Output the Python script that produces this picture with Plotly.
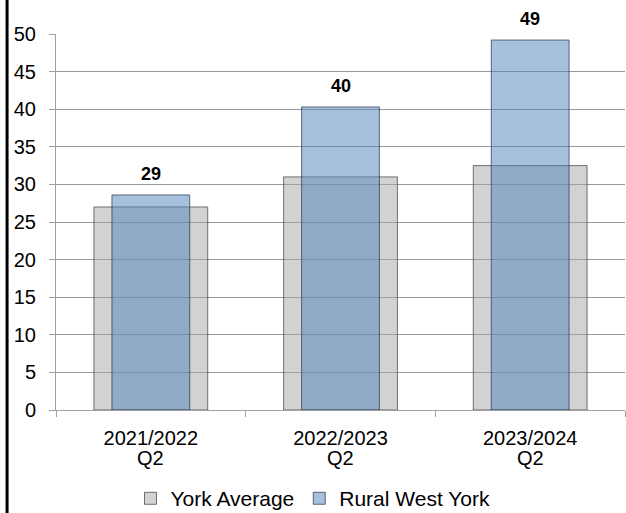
import plotly.graph_objects as go

# values
periods = ["2021/2022", "2022/2023", "2023/2024"]
quarters = ["Q2", "Q2", "Q2"]
york_average = [27.0, 31.0, 32.5]
rural_west_york = [28.6, 40.3, 49.2]
y_ticks = [0, 5, 10, 15, 20, 25, 30, 35, 40, 45, 50]

font_family = "Liberation Sans, Arial, sans-serif"

fig = go.Figure()

# wide grey bars behind
fig.add_trace(go.Bar(
    x=periods, y=york_average, name="York Average",
    width=0.6,
    marker=dict(color="rgba(166,166,166,0.5)",
                line=dict(color="rgba(60,60,60,0.7)", width=1)),
))

# narrower blue bars in front
fig.add_trace(go.Bar(
    x=periods, y=rural_west_york, name="Rural West York",
    width=0.41,
    marker=dict(color="rgba(79,129,189,0.5)",
                line=dict(color="rgba(40,50,70,0.7)", width=1)),
))

# rounded value labels above the blue bars
for p, v in zip(periods, rural_west_york):
    fig.add_annotation(x=p, y=v, text="<b>%d</b>" % int(v + 0.5), showarrow=False,
                       yanchor="bottom", yshift=9,
                       font=dict(family=font_family, size=18, color="black"))

# second row of the category labels (quarter), tighter than a <br> line
for p, q in zip(periods, quarters):
    fig.add_annotation(x=p, xref="x", y=0, yref="paper", text=q, showarrow=False,
                       yanchor="middle", yshift=-48,
                       font=dict(family=font_family, size=20, color="black"))

# black frame line at the left edge
fig.add_shape(type="line", xref="paper", yref="paper",
              x0=-0.086, x1=-0.086, y0=-0.3, y1=1.1,
              line=dict(color="black", width=3))

fig.update_layout(
    width=626, height=513,
    margin=dict(l=56, r=1, t=34, b=103),
    barmode="overlay",
    plot_bgcolor="white", paper_bgcolor="white",
    font=dict(family=font_family, size=20, color="black"),
    legend=dict(orientation="h", xref="container", x=0.5, xanchor="center",
                yref="container", y=0.028, yanchor="middle",
                font=dict(size=21), traceorder="normal"),
)

fig.update_yaxes(range=[0, 50], tickvals=y_ticks, automargin=False,
                 showgrid=True, gridcolor="#999999", gridwidth=1,
                 showline=True, linecolor="#a0a0a0", linewidth=1,
                 ticks="outside", ticklen=6, tickcolor="#a0a0a0",
                 ticklabelstandoff=9, zeroline=False)
fig.update_xaxes(range=[-0.5, 2.5], showline=True, linecolor="#a0a0a0",
                 linewidth=1, automargin=False,
                 ticks="outside", ticklen=6, tickcolor="#a0a0a0",
                 tickson="boundaries", ticklabelstandoff=10, showgrid=False)

# drop the default body margin so the figure sits at the page corner
fig.write_html("out.html", config={"displayModeBar": False},
               post_script="document.body.style.margin='0px';")
